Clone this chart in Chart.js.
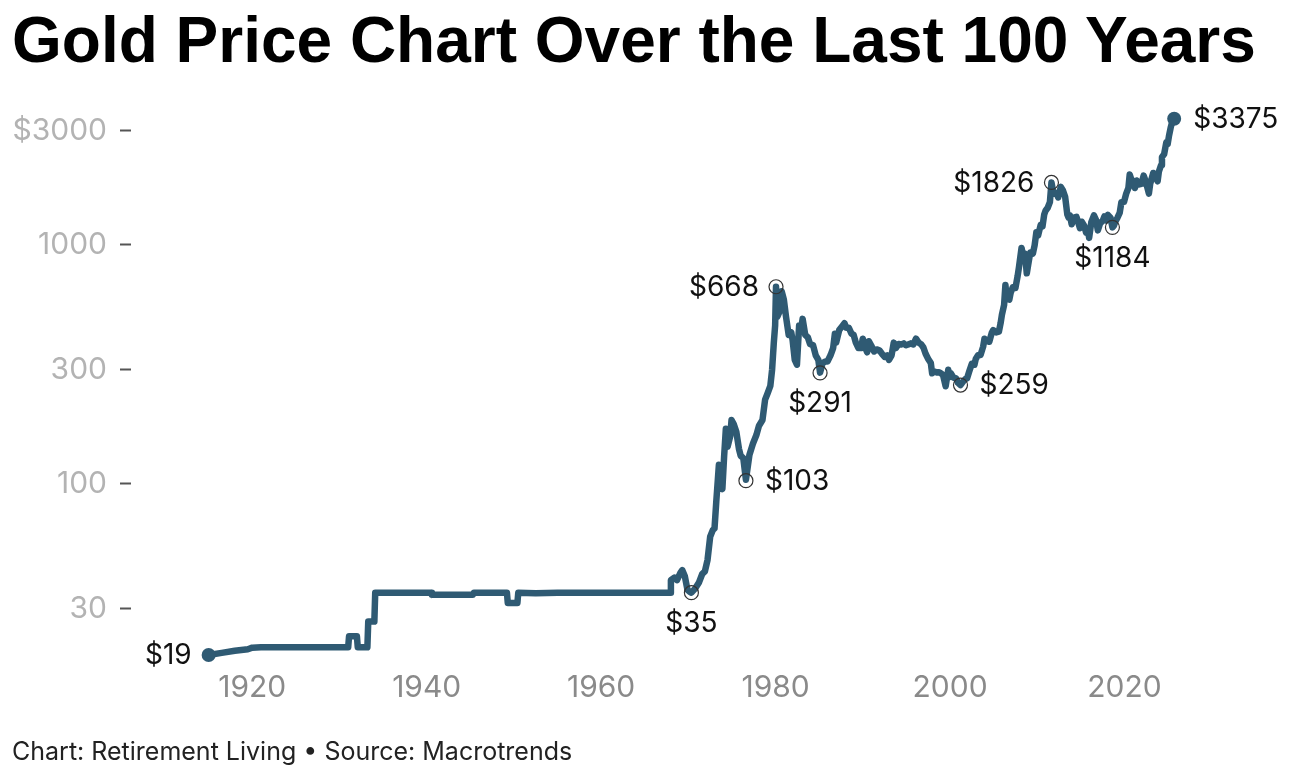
<!DOCTYPE html>
<html>
<head>
<meta charset="utf-8">
<title>Gold Price Chart Over the Last 100 Years</title>
<script src="https://cdn.jsdelivr.net/npm/chart.js@4.4.1/dist/chart.umd.min.js"></script>
<style>
    body { margin: 0; background: #fff; }
    .wrap { position: relative; width: 1290px; height: 777px; overflow: hidden; }
    canvas { position: absolute; left: 0; top: 0; }
    h1 {
        position: absolute; left: 12px; top: 3px; margin: 0;
        font: bold 64px "Liberation Sans", Arial, sans-serif;
        color: #000; white-space: nowrap;
    }
    .source {
        position: absolute; left: 12px; top: 736px;
        font: 25px Inter, sans-serif; color: #222;
    }
</style>
</head>
<body>
<div class="wrap">
    <canvas id="goldChart" width="1290" height="777"></canvas>
    <h1>Gold Price Chart Over the Last 100 Years</h1>
    <div class="source">Chart: Retirement Living • Source: Macrotrends</div>
</div>
<script>
// price history (decimal years, USD per oz)
const years = [
    1915.0, 1916.5, 1918.0, 1919.5, 1920.0, 1921.0, 1931.0, 1931.1, 1932.0, 1932.1,
    1933.2, 1933.3, 1934.0, 1934.1, 1940.5, 1940.6, 1945.3, 1945.4, 1949.2, 1949.3,
    1950.4, 1950.5, 1952.5, 1955.0, 1960.0, 1967.9, 1968.0, 1968.4, 1968.7, 1969.1,
    1969.3, 1969.6, 1969.9, 1970.2, 1970.35, 1970.8, 1971.2, 1971.6, 1971.9, 1972.2,
    1972.5, 1972.8, 1973.0, 1973.2, 1973.5, 1973.7, 1973.9, 1974.1, 1974.3, 1974.5,
    1974.8, 1974.95, 1975.2, 1975.5, 1975.8, 1976.0, 1976.3, 1976.6, 1976.8, 1977.0,
    1977.4, 1977.8, 1978.1, 1978.5, 1978.8, 1979.1, 1979.4, 1979.6, 1979.8, 1979.95,
    1980.05, 1980.2, 1980.4, 1980.7, 1980.95, 1981.2, 1981.5, 1981.8, 1981.95, 1982.2,
    1982.45, 1982.7, 1982.9, 1983.1, 1983.4, 1983.7, 1983.95, 1984.3, 1984.6, 1984.9,
    1985.1, 1985.4, 1985.7, 1985.95, 1986.3, 1986.6, 1986.8, 1986.95, 1987.3, 1987.6,
    1987.9, 1988.1, 1988.4, 1988.7, 1988.95, 1989.2, 1989.5, 1989.8, 1990.0, 1990.3,
    1990.5, 1990.7, 1990.95, 1991.3, 1991.6, 1991.9, 1992.2, 1992.5, 1992.8, 1993.0,
    1993.3, 1993.55, 1993.8, 1994.1, 1994.4, 1994.7, 1994.95, 1995.2, 1995.5, 1995.8,
    1996.1, 1996.4, 1996.7, 1996.95, 1997.2, 1997.5, 1997.8, 1997.95, 1998.2, 1998.5,
    1998.75, 1998.95, 1999.2, 1999.5, 1999.8, 1999.95, 2000.1, 2000.4, 2000.7, 2000.9,
    2001.2, 2001.5, 2001.8, 2001.95, 2002.2, 2002.5, 2002.8, 2002.95, 2003.2, 2003.5,
    2003.8, 2003.95, 2004.3, 2004.5, 2004.8, 2004.95, 2005.3, 2005.6, 2005.8, 2005.95,
    2006.2, 2006.35, 2006.5, 2006.8, 2006.95, 2007.2, 2007.5, 2007.75, 2007.9, 2008.2,
    2008.45, 2008.6, 2008.8, 2008.95, 2009.2, 2009.5, 2009.7, 2009.9, 2010.1, 2010.4,
    2010.6, 2010.8, 2010.95, 2011.2, 2011.45, 2011.63, 2011.8, 2011.95, 2012.2, 2012.4,
    2012.7, 2012.95, 2013.2, 2013.45, 2013.6, 2013.75, 2013.95, 2014.2, 2014.5, 2014.7,
    2014.9, 2015.1, 2015.4, 2015.6, 2015.8, 2015.95, 2016.2, 2016.5, 2016.75, 2016.95,
    2017.2, 2017.5, 2017.7, 2017.95, 2018.1, 2018.4, 2018.62, 2018.8, 2018.95, 2019.2,
    2019.45, 2019.65, 2019.95, 2020.2, 2020.45, 2020.6, 2020.8, 2020.95, 2021.2, 2021.4,
    2021.6, 2021.95, 2022.2, 2022.45, 2022.8, 2022.95, 2023.3, 2023.6, 2023.8, 2023.95,
    2024.2, 2024.3, 2024.55, 2024.8, 2024.95, 2025.1, 2025.3, 2025.5, 2025.7
];
const prices = [
    19.2, 19.6, 20.0, 20.3, 20.6, 20.67, 20.67, 23.0, 23.0, 20.67,
    20.67, 26.5, 26.5, 35.0, 35.0, 34.3, 34.3, 35.0, 35.0, 31.7,
    31.7, 35.0, 34.8, 35.0, 35.0, 35.0, 39.5, 40.5, 39.5, 42.5,
    43.5, 41, 36, 35.2, 35, 36.5, 38.5, 42, 43, 48,
    60, 64, 65, 84, 120, 103, 95, 130, 170, 143,
    158, 185, 178, 165, 140, 131, 128, 104, 117, 132,
    147, 160, 175, 185, 225, 240, 257, 300, 390, 460,
    668, 500, 520, 640, 590, 500, 420, 430, 400, 330,
    315, 460, 440, 490, 420, 410, 385, 380, 345, 330,
    292, 320, 325, 325, 345, 370, 425, 390, 440, 455,
    470, 450, 450, 425, 420, 390, 370, 370, 405, 370,
    355, 395, 380, 358, 365, 362, 350, 340, 345, 330,
    345, 390, 370, 385, 383, 387, 380, 383, 387, 383,
    405, 390, 383, 372, 350, 333, 320, 290, 295, 292,
    293, 290, 285, 256, 300, 280, 290, 278, 276, 265,
    259, 268, 275, 276, 295, 318, 315, 333, 345, 346,
    375, 405, 395, 393, 430, 440, 430, 433, 470, 510,
    560, 680, 600, 590, 630, 665, 660, 740, 805, 970,
    880, 920, 760, 820, 930, 920, 995, 1130, 1095, 1215,
    1195, 1340, 1390, 1430, 1510, 1826, 1690, 1640, 1650, 1580,
    1750, 1690, 1590, 1340, 1300, 1330, 1220, 1300, 1310, 1240,
    1175, 1250, 1200, 1125, 1160, 1070, 1245, 1330, 1270, 1150,
    1230, 1260, 1315, 1265, 1335, 1300, 1184, 1205, 1250, 1300,
    1360, 1510, 1515, 1640, 1730, 1970, 1875, 1860, 1730, 1860,
    1790, 1800, 1950, 1840, 1640, 1800, 2000, 1920, 1845, 2030,
    2160, 2330, 2400, 2690, 2640, 2850, 3100, 3300, 3375
];

// labelled turning points (hollow circles)
const markYears = [1970.35, 1976.6, 1980.05, 1985.1, 2001.2, 2011.63, 2018.62];
const markPrices = [35, 103, 668, 291, 259, 1826, 1184];

// first and last observation (filled dots)
const endYears = [1915.0, 2025.7];
const endPrices = [19.2, 3375];

// axis ticks
const xTicks = [1920, 1940, 1960, 1980, 2000, 2020];
const yTicks = [30, 100, 300, 1000, 3000];
const yTickLabels = ['30', '100', '300', '1000', '$3000'];

const lineColor = '#2f5a73';

// where each label sits relative to its point
const labelSide = {
    1915.0: 'left', 2025.7: 'right',
    1970.35: 'below', 1976.6: 'right', 1980.05: 'left', 1985.1: 'below',
    2001.2: 'right', 2011.63: 'left', 2018.62: 'below'
};

const toPoints = (xs, ys) => xs.map((x, i) => ({ x: x, y: ys[i] }));

const priceLabels = {
    id: 'priceLabels',
    afterDatasetsDraw(chart) {
        const ctx = chart.ctx;
        const xs = chart.scales.x;
        const ys = chart.scales.y;
        const all = toPoints(endYears, endPrices).concat(toPoints(markYears, markPrices));
        ctx.save();
        ctx.font = '28px Inter, sans-serif';
        ctx.fillStyle = '#111';
        ctx.textBaseline = 'middle';
        all.forEach(p => {
            const px = xs.getPixelForValue(p.x);
            const py = ys.getPixelForValue(p.y);
            const text = '$' + Math.round(p.y);
            const side = labelSide[p.x];
            if (side === 'left') {
                ctx.textAlign = 'right';
                ctx.fillText(text, px - 17, py + 1);
            } else if (side === 'right') {
                ctx.textAlign = 'left';
                ctx.fillText(text, px + 19, py + 1);
            } else {
                ctx.textAlign = 'center';
                ctx.fillText(text, px, py + 31);
            }
        });
        ctx.restore();
    }
};

Chart.defaults.font.family = 'Inter, sans-serif';

new Chart(document.getElementById('goldChart'), {
    type: 'line',
    data: {
        datasets: [
            {
                data: toPoints(years, prices),
                borderColor: lineColor,
                borderWidth: 6.5,
                borderJoinStyle: 'round',
                borderCapStyle: 'round',
                pointRadius: 0,
                tension: 0,
                order: 3
            },
            {
                data: toPoints(endYears, endPrices),
                showLine: false,
                pointRadius: 7,
                pointBackgroundColor: lineColor,
                pointBorderWidth: 0,
                order: 2
            },
            {
                data: toPoints(markYears, markPrices),
                showLine: false,
                pointRadius: 7,
                pointBackgroundColor: 'rgba(0,0,0,0)',
                pointBorderColor: '#333',
                pointBorderWidth: 1.2,
                order: 1
            }
        ]
    },
    options: {
        responsive: false,
        animation: false,
        layout: { padding: { top: 97, right: 60, bottom: 70, left: 0 } },
        plugins: {
            legend: { display: false },
            tooltip: { enabled: false }
        },
        scales: {
            x: {
                type: 'linear',
                min: 1906.1,
                max: 2032.1,
                afterBuildTicks: scale => { scale.ticks = xTicks.map(v => ({ value: v })); },
                afterFit: scale => { scale.height = 40; },
                grid: { display: false, drawTicks: false },
                border: { display: false },
                ticks: {
                    color: '#8a8a8a',
                    font: { size: 30 },
                    padding: 3,
                    maxRotation: 0,
                    callback: v => String(v)
                }
            },
            y: {
                type: 'logarithmic',
                min: 17.1,
                max: 4160,
                afterBuildTicks: scale => { scale.ticks = yTicks.map(v => ({ value: v })); },
                afterFit: scale => { scale.width = 131; },
                grid: {
                    drawOnChartArea: false,
                    drawTicks: true,
                    tickLength: 11,
                    tickWidth: 2,
                    tickColor: '#555'
                },
                border: { display: false },
                ticks: {
                    color: '#b3b3b3',
                    font: { size: 30 },
                    padding: 13,
                    callback: (v, i) => yTickLabels[yTicks.indexOf(v)]
                }
            }
        }
    },
    plugins: [priceLabels]
});
</script>
</body>
</html>
